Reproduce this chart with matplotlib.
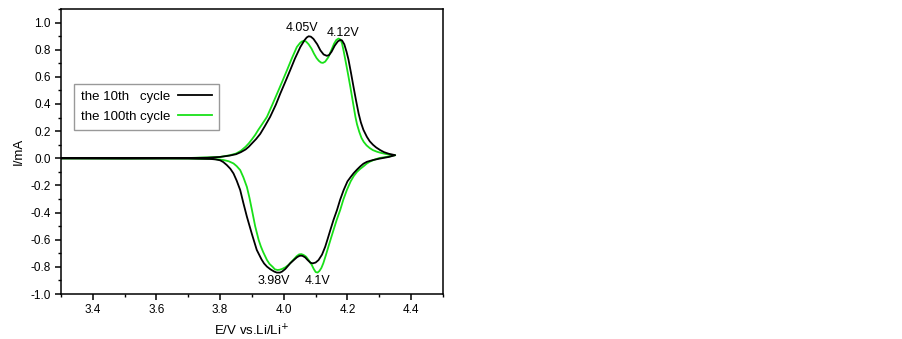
import matplotlib
matplotlib.use("Agg")
import matplotlib.pyplot as plt
from matplotlib.ticker import MultipleLocator, FormatStrFormatter

plt.rcParams['font.family'] = ['Liberation Sans', 'DejaVu Sans']
plt.rcParams['axes.unicode_minus'] = False

# 10th cycle - anodic (upper) branch
e10_an = [3.30, 3.50, 3.70, 3.76, 3.80, 3.83, 3.85, 3.865, 3.88, 3.89, 3.90, 3.913, 3.926, 3.94, 3.957, 3.975,
          3.989, 4.005, 4.02, 4.035, 4.052, 4.065, 4.072, 4.078, 4.085, 4.093, 4.105, 4.115, 4.125, 4.135,
          4.142, 4.15, 4.16, 4.17, 4.178, 4.183, 4.19, 4.197, 4.203, 4.211, 4.219, 4.227, 4.235, 4.242,
          4.25, 4.261, 4.27, 4.28, 4.29, 4.303, 4.315, 4.33, 4.35]
i10_an = [0.000, 0.000, 0.002, 0.004, 0.010, 0.020, 0.030, 0.045, 0.065, 0.085, 0.110, 0.142, 0.180, 0.235,
          0.305, 0.395, 0.477, 0.565, 0.649, 0.735, 0.820, 0.870, 0.890, 0.899, 0.896, 0.880, 0.840, 0.795,
          0.765, 0.755, 0.760, 0.785, 0.830, 0.862, 0.872, 0.868, 0.840, 0.785, 0.729, 0.630, 0.526, 0.425,
          0.330, 0.265, 0.210, 0.158, 0.125, 0.100, 0.080, 0.060, 0.045, 0.033, 0.023]
# 10th cycle - cathodic (lower) branch
e10_ca = [4.35, 4.33, 4.30, 4.28, 4.261, 4.25, 4.24, 4.23, 4.219, 4.21, 4.20, 4.188, 4.177, 4.167, 4.156,
          4.146, 4.138, 4.13, 4.12, 4.109, 4.1, 4.091, 4.084, 4.075, 4.067, 4.058, 4.05, 4.042, 4.035, 4.02,
          4.005, 3.995, 3.988, 3.978, 3.97, 3.958, 3.947, 3.938, 3.93, 3.915, 3.90, 3.892, 3.884, 3.873,
          3.863, 3.852, 3.842, 3.832, 3.821, 3.81, 3.80, 3.785, 3.77, 3.70, 3.50, 3.30]
i10_ca = [0.023, 0.010, -0.003, -0.013, -0.026, -0.040, -0.06, -0.083, -0.111, -0.138, -0.17, -0.234, -0.305,
          -0.382, -0.455, -0.530, -0.592, -0.652, -0.71, -0.750, -0.768, -0.774, -0.770, -0.750, -0.730,
          -0.718, -0.718, -0.728, -0.742, -0.774, -0.815, -0.834, -0.842, -0.842, -0.835, -0.818, -0.798,
          -0.775, -0.745, -0.675, -0.56, -0.495, -0.430, -0.33, -0.234, -0.165, -0.112, -0.077, -0.050,
          -0.028, -0.015, -0.008, -0.005, -0.002, -0.001, 0.000]

# 100th cycle - anodic branch
e100_an = [3.30, 3.50, 3.70, 3.80, 3.83, 3.85, 3.865, 3.88, 3.89, 3.90, 3.91, 3.92, 3.933, 3.947, 3.963,
           3.979, 3.995, 4.01, 4.025, 4.041, 4.047, 4.052, 4.058, 4.064, 4.07, 4.078, 4.087, 4.095, 4.103,
           4.11, 4.117, 4.123, 4.13, 4.14, 4.15, 4.158, 4.165, 4.172, 4.178, 4.183, 4.188, 4.193, 4.201,
           4.209, 4.217, 4.225, 4.23, 4.237, 4.244, 4.251, 4.26, 4.27, 4.28, 4.293, 4.305, 4.32, 4.335, 4.35]
i100_an = [0.000, 0.000, 0.002, 0.010, 0.022, 0.035, 0.055, 0.085, 0.110, 0.140, 0.172, 0.210, 0.255, 0.305,
           0.390, 0.477, 0.565, 0.649, 0.735, 0.820, 0.838, 0.852, 0.862, 0.865, 0.860, 0.840, 0.808, 0.770,
           0.738, 0.718, 0.705, 0.703, 0.712, 0.745, 0.800, 0.845, 0.872, 0.882, 0.875, 0.845, 0.790, 0.729,
           0.630, 0.526, 0.415, 0.305, 0.250, 0.195, 0.150, 0.121, 0.095, 0.075, 0.060, 0.048, 0.040, 0.032,
           0.026, 0.023]
# 100th cycle - cathodic branch
e100_ca = [4.35, 4.33, 4.30, 4.285, 4.27, 4.26, 4.25, 4.24, 4.23, 4.22, 4.21, 4.198, 4.187, 4.177, 4.166,
           4.156, 4.148, 4.14, 4.132, 4.124, 4.118, 4.112, 4.106, 4.1, 4.094, 4.087, 4.078, 4.07, 4.062,
           4.055, 4.048, 4.04, 4.035, 4.025, 4.015, 4.005, 3.995, 3.987, 3.98, 3.972, 3.965, 3.955, 3.947,
           3.935, 3.928, 3.921, 3.91, 3.90, 3.892, 3.884, 3.873, 3.863, 3.852, 3.842, 3.827, 3.811, 3.795,
           3.78, 3.70, 3.50, 3.30]
i100_ca = [0.023, 0.013, 0.002, -0.010, -0.025, -0.040, -0.06, -0.078, -0.100, -0.130, -0.17, -0.234, -0.305,
           -0.382, -0.455, -0.530, -0.590, -0.652, -0.715, -0.774, -0.808, -0.830, -0.842, -0.838, -0.815,
           -0.782, -0.750, -0.725, -0.712, -0.706, -0.708, -0.722, -0.735, -0.760, -0.785, -0.803, -0.815,
           -0.821, -0.823, -0.818, -0.80, -0.778, -0.749, -0.69, -0.65, -0.602, -0.50, -0.382, -0.29, -0.211,
           -0.14, -0.087, -0.058, -0.038, -0.022, -0.013, -0.008, -0.006, -0.002, -0.001, 0.000]

peak_labels = ["4.05V", "4.12V", "3.98V", "4.1V"]
peak_label_x = [4.057, 4.185, 3.968, 4.106]
peak_label_y = [0.963, 0.926, -0.901, -0.901]

series_names = ["the 10th   cycle", "the 100th cycle"]
black = "#000000"
green = "#19e019"

fig = plt.figure(figsize=(9.02, 3.39), dpi=100)
ax = fig.add_axes([0.0676, 0.1327, 0.4235, 0.8408])

ax.plot(e10_an + e10_ca, i10_an + i10_ca, color=black, lw=1.3, label=series_names[0], zorder=3)
ax.plot(e100_an + e100_ca, i100_an + i100_ca, color=green, lw=1.3, label=series_names[1], zorder=2)

for t, x, y in zip(peak_labels, peak_label_x, peak_label_y):
    ax.text(x, y, t, ha='center', va='center', fontsize=9)

ax.set_xlim(3.3, 4.5)
ax.set_ylim(-1.0, 1.1)
ax.xaxis.set_major_locator(MultipleLocator(0.2))
ax.xaxis.set_minor_locator(MultipleLocator(0.1))
ax.yaxis.set_major_locator(MultipleLocator(0.2))
ax.yaxis.set_minor_locator(MultipleLocator(0.1))
ax.xaxis.set_major_formatter(FormatStrFormatter('%.1f'))
ax.yaxis.set_major_formatter(FormatStrFormatter('%.1f'))
ax.tick_params(which='both', direction='out', labelsize=8.5, top=False, right=False)
ax.tick_params(which='major', length=4, width=1.1)
ax.tick_params(which='minor', length=2.5, width=1.0)
for s in ax.spines.values():
    s.set_linewidth(1.1)

ax.set_xlabel('E/V vs.Li/Li$^{+}$', fontsize=9.5, labelpad=5)
ax.set_ylabel('I/mA', fontsize=9.5, labelpad=4)

leg = ax.legend(loc='upper left', bbox_to_anchor=(0.034, 0.737), fontsize=9.5, markerfirst=False,
                frameon=True, fancybox=False, edgecolor='#808080', handlelength=2.6,
                borderpad=0.5, labelspacing=0.6, handletextpad=0.6, borderaxespad=0)
leg.get_frame().set_linewidth(1.0)

fig.savefig('out.png', dpi=100)
